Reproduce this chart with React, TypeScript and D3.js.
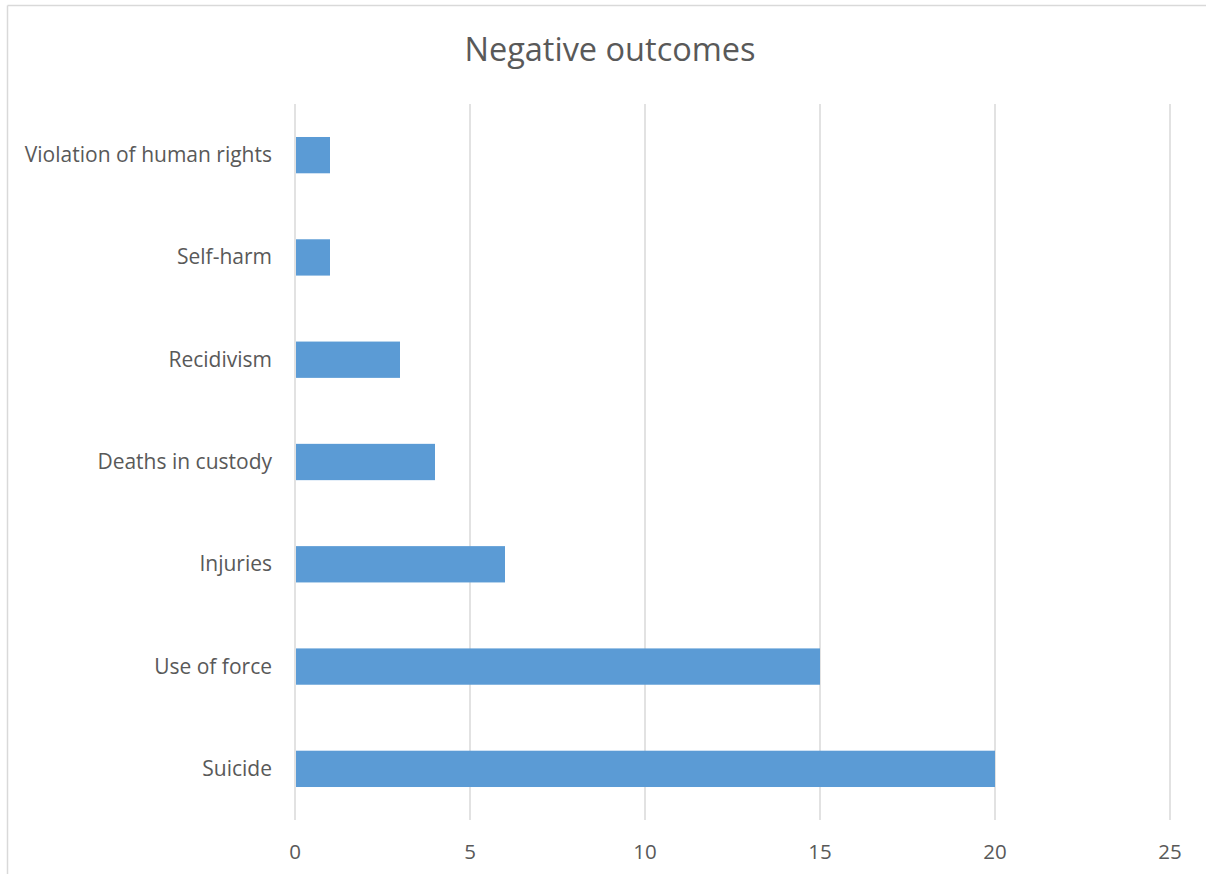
import React, { useEffect } from "react";
import * as d3 from "d3";

// Categories listed bottom to top as they appear on the vertical axis
const categories = [
  "Suicide",
  "Use of force",
  "Injuries",
  "Deaths in custody",
  "Recidivism",
  "Self-harm",
  "Violation of human rights",
];
const counts = [20, 15, 6, 4, 3, 1, 1];
const xTicks = [0, 5, 10, 15, 20, 25];
const title = "Negative outcomes";

const W = 1206;
const H = 874;
const plot = { left: 295, right: 1170, top: 104, bottom: 820 };
const FONT = "'Open Sans', 'Segoe UI', sans-serif";
const TEXT = "#595959";
const GRID = "#D9D9D9";
const BAR = "#5B9BD5";

export default function App() {
  useEffect(() => {
    document.body.style.margin = "0";
    document.body.style.overflow = "hidden";
  }, []);

  const x = d3.scaleLinear().domain([0, 25]).range([plot.left, plot.right]);
  const y = d3
    .scaleBand<string>()
    .domain([...categories].reverse())
    .range([plot.top, plot.bottom])
    .paddingInner(0.645)
    .paddingOuter(0.3225);

  return (
    <svg
      width={W}
      height={H}
      style={{ position: "fixed", left: 0, top: 0, background: "#fff", display: "block" }}
    >
      <rect x={0} y={0} width={W} height={H} fill="#fff" />
      {/* chart frame: only its top and left edges fall inside the view */}
      <line x1={7.5} x2={W} y1={5.5} y2={5.5} stroke={GRID} strokeWidth={1.5} />
      <line x1={7.5} x2={7.5} y1={5.5} y2={H} stroke={GRID} strokeWidth={1.5} />
      <text
        x={610}
        y={61}
        textAnchor="middle"
        fontFamily={FONT}
        fontSize={32.5}
        fontWeight={400}
        fill={TEXT}
      >
        {title}
      </text>
      {xTicks.map((t) => (
        <g key={t}>
          <line
            x1={x(t)}
            x2={x(t)}
            y1={plot.top}
            y2={plot.bottom}
            stroke={GRID}
            strokeWidth={1.5}
          />
          <text
            x={x(t)}
            y={859}
            textAnchor="middle"
            fontFamily={FONT}
            fontSize={20.5}
            fill={TEXT}
          >
            {t}
          </text>
        </g>
      ))}
      {categories.map((c, i) => (
        <g key={c}>
          <rect
            x={x(0) + 1}
            y={y(c)}
            width={x(counts[i]) - x(0) - 1}
            height={y.bandwidth()}
            fill={BAR}
          />
          <text
            x={272}
            y={(y(c) as number) + y.bandwidth() / 2 + 7}
            textAnchor="end"
            fontFamily={FONT}
            fontSize={21}
            fill={TEXT}
          >
            {c}
          </text>
        </g>
      ))}
    </svg>
  );
}
